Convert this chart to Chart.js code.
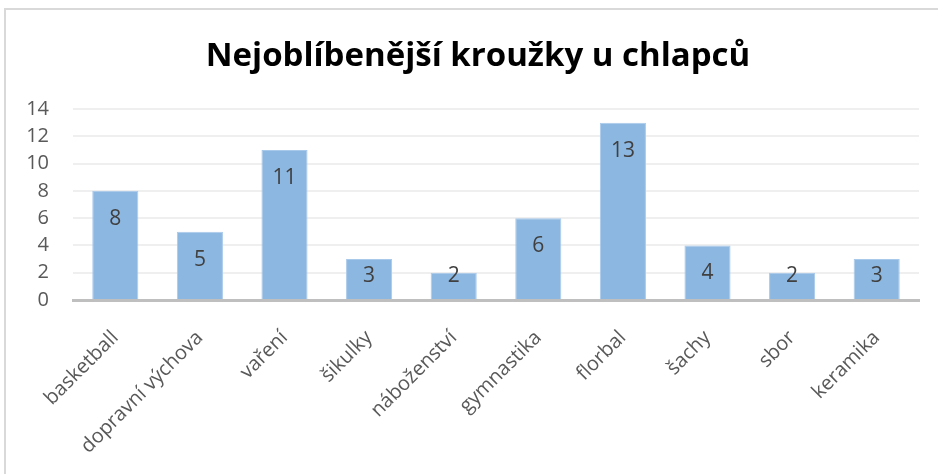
<!DOCTYPE html>
<html>
<head>
<meta charset="utf-8">
<script src="https://cdn.jsdelivr.net/npm/chart.js@4"></script>
<style>
    html, body { margin: 0; padding: 0; background: #fff; }
    #wrap { position: relative; width: 938px; height: 474px; }
    #frame { position: absolute; left: 4px; top: 8px; right: 0; bottom: 0; border-top: 2px solid #d9d9d9; border-left: 2px solid #d9d9d9; }
    canvas { position: absolute; left: 0; top: 0; }
</style>
</head>
<body>
<div id="wrap">
    <div id="frame"></div>
    <canvas id="chart" width="938" height="474"></canvas>
</div>
<script>
const titleText = 'Nejoblíbenější kroužky u chlapců';
const categories = ['basketball', 'dopravní výchova', 'vaření', 'šikulky', 'náboženství', 'gymnastika', 'florbal', 'šachy', 'sbor', 'keramika'];
const counts = [8, 5, 11, 3, 2, 6, 13, 4, 2, 3];
const yTicks = [0, 2, 4, 6, 8, 10, 12, 14];

// title centred on the whole frame, not on the chart box
const frameTitle = {
    id: 'frameTitle',
    afterDraw(chart) {
        const ctx = chart.ctx;
        ctx.save();
        ctx.font = 'bold 33px "Open Sans"';
        ctx.fillStyle = '#000000';
        ctx.textAlign = 'center';
        ctx.textBaseline = 'middle';
        ctx.fillText(titleText, 478, 57);
        ctx.restore();
    }
};

// values written inside the bar tops, like Excel "inside end"
const barLabels = {
    id: 'barLabels',
    afterDatasetsDraw(chart) {
        const ctx = chart.ctx;
        const meta = chart.getDatasetMeta(0);
        ctx.save();
        ctx.font = '21px "Open Sans"';
        ctx.fillStyle = '#404040';
        ctx.textAlign = 'center';
        ctx.textBaseline = 'middle';
        meta.data.forEach(function(bar, i) {
            const y = Math.min(bar.y + 28, bar.base - 23);
            ctx.fillText(String(counts[i]), bar.x, y);
        });
        ctx.restore();
    }
};

const ctx = document.getElementById('chart').getContext('2d');
new Chart(ctx, {
    type: 'bar',
    data: {
        labels: categories,
        datasets: [{
            data: counts,
            backgroundColor: '#8cb7e1',
            borderColor: '#a9c9ea',
            borderWidth: 1,
            categoryPercentage: 1,
            barPercentage: 0.545
        }]
    },
    options: {
        responsive: false,
        animation: false,
        layout: { padding: { left: 0, right: 19, top: 109, bottom: 0 } },
        plugins: {
            legend: { display: false },
            tooltip: { enabled: false },
            title: { display: false }
        },
        scales: {
            y: {
                min: 0,
                max: 14,
                afterBuildTicks: function(scale) {
                    scale.ticks = yTicks.map(v => ({ value: v }));
                },
                afterFit: function(scale) { scale.width = 73; },
                border: { display: false },
                grid: {
                    drawTicks: false,
                    lineWidth: 2,
                    color: c => c.tick.value === 0 ? 'rgba(0,0,0,0)' : '#efefef'
                },
                ticks: {
                    color: '#595959',
                    font: { family: '"Open Sans"', size: 20 },
                    padding: 24
                }
            },
            x: {
                afterFit: function(scale) { scale.height = 174; },
                border: { display: true, color: '#bfbfbf', width: 3 },
                grid: { display: false },
                ticks: {
                    color: '#595959',
                    font: { family: '"Open Sans"', size: 20 },
                    minRotation: 45,
                    maxRotation: 45,
                    padding: 18
                }
            }
        }
    },
    plugins: [barLabels, frameTitle]
});
</script>
</body>
</html>
